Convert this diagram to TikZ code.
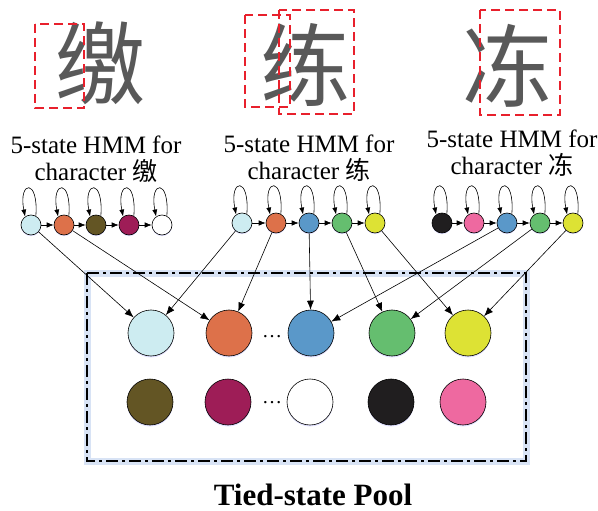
\documentclass[tikz,border=0pt]{standalone}
\usepackage{fontspec}
\setmainfont{Liberation Serif}
\newfontfamily\cjk{Noto Sans CJK SC}
\usetikzlibrary{arrows.meta,shadows}
\definecolor{stLight}{RGB}{205,236,241}
\definecolor{stOrange}{RGB}{221,113,74}
\definecolor{stOlive}{RGB}{99,85,36}
\definecolor{stMaroon}{RGB}{158,29,87}
\definecolor{stBlue}{RGB}{90,152,201}
\definecolor{stGreen}{RGB}{101,190,111}
\definecolor{stYellow}{RGB}{221,226,52}
\definecolor{stBlack}{RGB}{32,30,31}
\definecolor{stPink}{RGB}{238,105,160}
\definecolor{boxred}{RGB}{232,32,44}
\definecolor{glow}{RGB}{190,208,238}
\tikzset{
  hmmstate/.style={circle,draw,line width=0.6pt,minimum size=20pt,inner sep=0pt,
    drop shadow={shadow xshift=0pt,shadow yshift=-1.2pt,fill=blue!40,opacity=.3}},
  poolstate/.style={circle,draw,line width=0.6pt,minimum size=46pt,inner sep=0pt,
    drop shadow={shadow xshift=0pt,shadow yshift=-1.5pt,fill=blue!40,opacity=.3}},
  selfloop/.style={-{Latex[length=7pt,width=5pt]},line width=0.6pt},
  chain/.style={-{Latex[length=7pt,width=5.5pt]},line width=0.6pt},
  link/.style={-{Latex[length=9pt,width=7pt]},line width=0.6pt},
  redbox/.style={draw=boxred,line width=1.6pt,dash pattern=on 9pt off 5pt},
  handchar/.style={text=black!65,font=\cjk\fontsize{90}{90}\selectfont,inner sep=0pt},
  hmmlabel/.style={align=center,font=\fontsize{25}{27}\selectfont,inner sep=0pt}
}
\begin{document}
\begin{tikzpicture}[x=1pt,y=-1pt]
\useasboundingbox (0,0) rectangle (598,511);
% handwritten samples
\node[handchar] (hwA) at (100,63) {缴};
\node[handchar] (hwB) at (305,65) {练};
\node[handchar] (hwC) at (507,66) {冻};
\draw[redbox] (35,24) rectangle (84,108);
\draw[redbox] (245,15) rectangle (290,107);
\draw[redbox] (279,10) rectangle (354,114);
\draw[redbox] (480,10) rectangle (560,115);
% labels
\node[hmmlabel] (labA) at (96,159) {5-state HMM for\\character {\cjk 缴}};
\node[hmmlabel] (labB) at (309,158) {5-state HMM for\\character {\cjk 练}};
\node[hmmlabel] (labC) at (512,153) {5-state HMM for\\character {\cjk 冻}};
% three HMMs
\foreach \n/\x/\c in {1/31/stLight,2/64/stOrange,3/96/stOlive,4/129/stMaroon,5/162/white}
  \node[hmmstate,fill=\c] (a\n) at (\x,225) {};
\foreach \n/\x/\c in {1/242/stLight,2/276/stOrange,3/309/stBlue,4/342/stGreen,5/375/stYellow}
  \node[hmmstate,fill=\c] (b\n) at (\x,223) {};
\foreach \n/\x/\c in {1/442/stBlack,2/474/stPink,3/507/stBlue,4/540/stGreen,5/573/stYellow}
  \node[hmmstate,fill=\c] (c\n) at (\x,223) {};
\foreach \h in {a,b,c}{
  \foreach \n in {1,...,5}
    \draw[selfloop] (\h\n.62) .. controls +(3,-38) and +(-7,-36) .. (\h\n.125);
  \foreach \n/\m in {1/2,2/3,3/4,4/5}
    \draw[chain] (\h\n) -- (\h\m);
}
% tied-state pool
\draw[glow,line width=7pt,opacity=.6] (87,273) rectangle (526,461);
\draw[line width=1.8pt,dash pattern=on 12pt off 4pt on 3pt off 4pt] (87,273) rectangle (526,461);
\foreach \n/\x/\c in {1/151/stLight,2/229/stOrange,3/311/stBlue,4/392/stGreen,5/468/stYellow}
  \node[poolstate,fill=\c] (p\n) at (\x,333) {};
\foreach \n/\x/\c in {1/150/stOlive,2/228/stMaroon,3/310/white,4/391/stBlack,5/463/stPink}
  \node[poolstate,fill=\c] (q\n) at (\x,402) {};
\node[font=\fontsize{20}{20}\selectfont] (dotP) at (272,337) {\dots};
\node[font=\fontsize{20}{20}\selectfont] (dotQ) at (272,403) {\dots};
% tying
\draw[link] (a1) -- (p1);
\draw[link] (a2) -- (p2);
\foreach \n in {1,...,5}
  \draw[link] (b\n) -- (p\n);
\foreach \n in {3,4,5}
  \draw[link] (c\n) -- (p\n);
\node[font=\bfseries\fontsize{31}{31}\selectfont,anchor=base,inner sep=0pt] (title) at (313,505) {Tied-state Pool};
\end{tikzpicture}
\end{document}
